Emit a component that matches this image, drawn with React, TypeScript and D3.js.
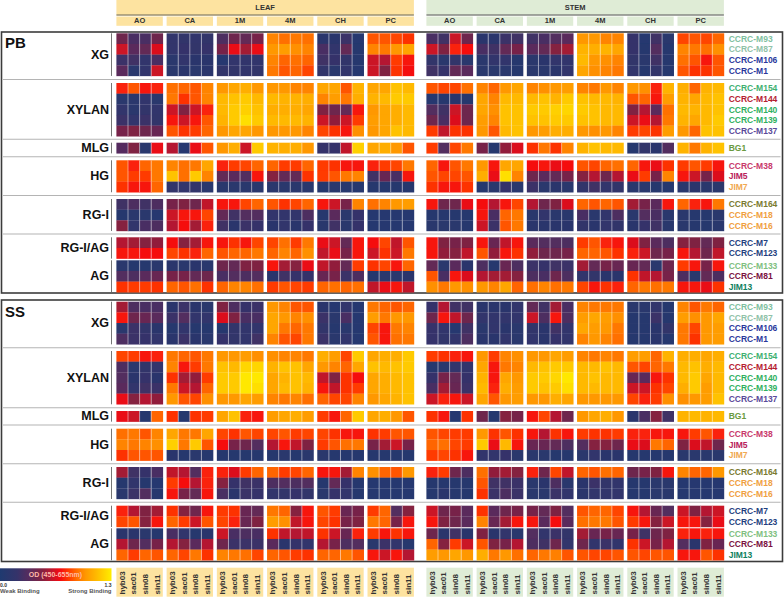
import React from "react";
import * as d3 from "d3";

// Values are OD x 100, rows follow ANTIBODIES, columns follow ACCESSIONS
const ACCESSIONS = ["hyb03", "sac01", "sin08", "sin11"];
const STAGES = ["AO", "CA", "1M", "4M", "CH", "PC"];
const ANTIBODIES = ["CCRC-M93","CCRC-M87","CCRC-M106","CCRC-M1","CCRC-M154","CCRC-M144","CCRC-M140","CCRC-M139","CCRC-M137","BG1","CCRC-M38","JIM5","JIM7","CCRC-M164","CCRC-M18","CCRC-M16","CCRC-M7","CCRC-M123","CCRC-M133","CCRC-M81","JIM13"];
const ANTIBODY_COLORS = ["#7fbfa0","#8fc2a8","#2a389c","#2a389c","#40b070","#b52030","#30b060","#30b060","#5a4a9a","#6a9a40","#c8386a","#b8205a","#f0a850","#7a7a30","#f0a040","#f0a040","#1f3f80","#1f3f80","#80c080","#7a1040","#108060"];
const GROUPS = ["XG","XYLAN","MLG","HG","RG-I","RG-I/AG","AG"];
const GROUP_SIZES = [4,5,1,3,3,2,3];

const PB_LEAF_AO = [[42,28,28,42],[62,35,38,65],[22,25,15,28],[35,10,15,62],[75,85,72,75],[10,10,15,10],[15,10,18,15],[22,15,22,18],[45,48,42,40],[33,48,10,68],[85,75,88,92],[85,80,80,92],[78,72,72,88],[25,30,25,30],[8,10,10,5],[50,15,28,30],[58,55,50,52],[72,72,70,70],[10,8,8,10],[32,30,35,40],[78,80,80,78]];
const PB_LEAF_CA = [[15,18,15,18],[15,20,18,20],[10,15,12,12],[10,12,10,12],[90,88,85,95],[92,78,85,95],[62,48,62,75],[72,62,72,85],[85,78,80,88],[58,5,68,85],[95,90,92,105],[115,90,118,95],[18,15,18,10],[45,48,42,60],[62,72,72,82],[58,70,55,75],[70,50,55,72],[82,78,75,88],[12,10,12,10],[45,45,38,42],[88,85,90,78]];
const PB_LEAF_1M = [[30,42,38,45],[45,68,55,68],[5,15,15,15],[18,18,15,18],[100,105,108,100],[112,115,118,112],[112,118,120,115],[110,118,125,118],[100,105,105,100],[100,108,62,118],[75,80,82,88],[38,35,32,72],[10,10,10,10],[72,72,82,88],[38,25,32,32],[25,12,22,20],[72,78,72,82],[85,88,88,92],[42,38,48,48],[28,32,30,32],[88,95,95,90]];
const PB_LEAF_4M = [[95,90,92,90],[100,102,98,95],[95,88,90,88],[92,85,88,82],[100,100,95,95],[112,110,110,108],[108,108,108,105],[112,112,112,110],[100,100,100,95],[110,108,108,100],[88,80,80,88],[50,38,38,78],[10,10,10,10],[85,78,82,88],[15,15,15,30],[12,15,12,20],[82,90,80,92],[88,95,88,98],[72,55,50,68],[12,25,20,20],[80,85,82,80]];
const PB_LEAF_CH = [[12,12,22,5],[28,15,38,8],[25,20,18,8],[18,10,15,5],[105,105,85,110],[95,102,92,108],[48,42,38,72],[62,52,62,80],[82,78,72,98],[20,20,60,120],[80,78,72,72],[80,85,92,95],[8,10,8,8],[72,62,45,95],[8,35,10,20],[10,25,10,20],[68,62,38,72],[60,68,45,72],[60,52,38,80],[40,45,22,30],[88,90,88,90]];
const PB_LEAF_PC = [[85,85,82,78],[95,92,100,105],[62,58,80,72],[62,48,78,70],[105,105,115,112],[110,112,118,118],[100,105,108,112],[102,105,108,112],[100,105,115,112],[105,108,100,85],[75,80,82,92],[25,40,28,72],[8,8,8,8],[90,95,100,102],[5,5,5,5],[5,5,5,5],[70,82,60,85],[62,78,62,92],[78,82,72,88],[8,10,10,12],[60,68,72,60]];

const PB_STEM_AO = [[28,25,62,42],[62,48,75,70],[18,10,18,10],[25,20,38,35],[85,82,82,90],[5,8,12,8],[32,25,62,42],[42,28,65,42],[80,60,78,78],[80,32,82,92],[88,72,85,92],[85,82,82,85],[78,72,72,78],[72,42,42,68],[8,8,8,8],[10,10,10,8],[72,48,45,48],[72,52,50,60],[38,10,35,12],[85,28,72,65],[98,92,100,98]];
const PB_STEM_CA = [[12,12,22,25],[28,25,38,45],[10,15,15,8],[10,10,10,8],[95,88,100,105],[105,95,112,112],[105,98,115,115],[102,95,115,115],[100,85,112,115],[45,8,52,65],[100,72,105,105],[108,68,125,95],[8,10,20,10],[70,58,72,82],[72,28,88,92],[62,22,85,92],[72,40,60,72],[85,52,72,78],[30,8,40,30],[58,55,55,50],[100,95,105,88]];
const PB_STEM_1M = [[25,28,32,35],[35,38,50,55],[10,12,15,15],[10,10,12,15],[95,98,100,102],[112,115,110,118],[118,118,120,122],[115,115,118,118],[100,102,108,108],[78,92,78,95],[70,72,68,70],[42,35,38,45],[22,10,12,10],[58,42,48,65],[10,15,10,10],[12,12,12,12],[35,32,32,30],[52,42,42,45],[22,20,25,22],[30,28,42,30],[90,95,90,92]];
const PB_STEM_4M = [[100,100,95,95],[110,108,110,105],[112,100,98,95],[105,98,95,92],[95,92,100,95],[115,112,112,110],[118,115,112,112],[115,115,112,112],[100,98,100,95],[110,115,112,112],[85,82,88,90],[50,58,42,58],[18,25,15,18],[88,85,88,85],[28,10,15,30],[18,12,15,18],[80,85,75,72],[88,88,85,78],[55,38,45,40],[15,18,12,12],[82,72,78,75]];
const PB_STEM_CH = [[20,5,25,10],[20,8,32,8],[18,10,25,8],[15,8,18,8],[100,98,75,110],[85,88,72,102],[48,58,35,90],[62,68,58,92],[80,82,78,102],[8,18,12,32],[88,72,68,78],[68,80,45,95],[10,10,8,8],[55,45,35,72],[10,32,28,10],[12,20,25,10],[65,48,35,30],[75,62,42,45],[40,38,10,42],[78,60,58,45],[88,92,90,92]];
const PB_STEM_PC = [[82,85,82,88],[95,92,90,98],[90,85,72,85],[85,78,78,85],[108,88,110,112],[110,105,112,115],[112,110,112,115],[110,105,112,118],[100,88,115,115],[110,92,110,115],[80,85,80,72],[72,62,45,65],[10,12,10,10],[88,75,72,92],[10,8,8,10],[10,8,8,10],[50,48,38,48],[72,58,42,60],[80,72,45,72],[30,10,38,30],[72,72,68,78]];

const SS_LEAF_AO = [[55,30,28,28],[72,42,40,35],[10,22,18,12],[30,22,20,15],[82,80,72,75],[30,10,18,15],[32,12,20,12],[35,15,25,22],[68,50,58,52],[68,62,8,88],[90,92,85,95],[95,92,95,98],[78,85,85,85],[55,25,20,28],[8,15,8,5],[10,22,32,8],[75,58,48,55],[82,85,50,72],[12,12,10,8],[58,42,32,45],[88,80,88,85]];
const SS_LEAF_CA = [[12,22,12,10],[22,32,15,15],[8,15,8,8],[12,22,12,10],[92,88,85,92],[95,72,80,92],[78,55,52,80],[92,62,58,88],[100,85,82,98],[78,8,78,80],[105,92,92,105],[120,92,118,85],[12,8,10,8],[60,58,32,75],[80,70,58,75],[72,45,38,72],[78,50,42,72],[88,80,62,85],[28,15,8,12],[58,50,35,58],[88,82,92,78]];
const SS_LEAF_1M = [[48,30,20,22],[65,48,28,28],[8,18,15,15],[20,18,15,25],[100,100,102,98],[115,112,122,122],[118,118,128,128],[118,118,128,125],[100,100,105,102],[105,115,75,72],[82,78,85,82],[70,45,42,32],[8,8,8,8],[75,65,80,88],[50,20,25,22],[28,12,22,20],[80,78,40,38],[82,75,40,48],[62,28,30,28],[42,22,22,22],[95,92,90,82]];
const SS_LEAF_4M = [[100,95,85,85],[105,100,95,98],[105,92,88,92],[95,85,82,92],[98,95,95,92],[110,115,115,105],[105,110,115,112],[105,112,115,110],[95,92,95,90],[102,105,108,102],[82,85,80,82],[58,72,60,48],[8,10,8,10],[88,80,82,88],[30,32,30,32],[15,18,20,18],[92,88,50,72],[102,98,60,72],[78,60,58,60],[35,12,20,15],[88,85,80,78]];
const SS_LEAF_CH = [[12,5,15,5],[22,10,28,5],[18,8,10,5],[22,10,15,5],[108,102,82,118],[100,95,88,105],[60,48,78,70],[72,60,78,80],[88,82,82,95],[80,72,88,118],[82,78,72,72],[80,85,90,92],[10,8,8,8],[72,72,55,95],[8,38,20,8],[10,20,15,8],[85,80,40,45],[82,78,45,48],[78,62,40,75],[58,45,30,32],[88,88,92,85]];
const SS_LEAF_PC = [[92,88,85,88],[102,92,100,100],[82,72,92,95],[85,72,90,92],[105,108,108,118],[115,112,115,118],[105,108,112,115],[105,108,112,115],[100,105,110,115],[105,108,100,85],[78,80,85,85],[45,55,62,45],[8,8,8,8],[98,88,85,100],[5,5,5,5],[5,5,5,5],[80,88,32,50],[92,88,45,72],[80,72,78,72],[10,22,15,8],[72,62,72,58]];

const SS_STEM_AO = [[20,58,25,25],[42,72,60,42],[20,15,5,25],[20,18,15,30],[80,78,75,72],[8,10,15,15],[20,45,38,20],[28,55,40,22],[62,75,72,62],[78,72,5,78],[85,82,80,80],[88,90,82,80],[80,82,78,72],[75,80,42,30],[8,8,8,8],[8,12,8,8],[62,42,45,35],[72,48,42,35],[42,12,25,12],[88,50,80,62],[102,100,105,100]];
const SS_STEM_CA = [[12,12,12,15],[15,15,15,15],[10,15,12,10],[12,12,15,10],[100,80,95,98],[105,72,92,95],[110,72,105,100],[112,75,108,102],[105,85,100,102],[42,8,50,45],[100,78,85,78],[118,68,112,72],[15,15,20,10],[90,52,55,50],[85,25,25,22],[78,22,30,22],[78,35,42,45],[95,40,55,72],[48,12,15,10],[85,48,45,58],[108,92,100,90]];
const SS_STEM_1M = [[38,25,55,28],[62,30,72,30],[18,12,25,15],[15,12,20,15],[100,100,105,102],[112,115,118,118],[118,118,122,128],[118,115,118,125],[100,100,108,105],[72,82,58,42],[72,58,78,72],[40,40,38,30],[10,10,8,8],[75,42,82,60],[10,12,30,10],[10,10,22,15],[45,38,48,32],[72,35,70,35],[32,15,22,18],[30,25,42,15],[88,92,94,85]];
const SS_STEM_4M = [[95,92,92,92],[102,105,102,98],[105,102,100,92],[95,100,95,90],[95,92,95,92],[112,112,115,112],[112,115,112,112],[112,112,112,112],[100,100,100,100],[100,105,108,100],[80,78,78,80],[32,50,50,42],[10,15,12,12],[88,85,90,88],[12,22,18,15],[12,15,15,15],[85,88,88,82],[90,92,92,85],[55,40,45,40],[42,15,22,15],[85,82,82,85]];
const SS_STEM_CH = [[10,10,15,8],[8,8,22,8],[8,8,12,18],[8,8,12,8],[102,102,88,110],[85,82,88,92],[40,35,72,78],[62,62,78,82],[82,75,80,98],[12,28,50,25],[75,75,72,72],[68,65,92,88],[8,8,8,8],[42,45,48,72],[8,8,10,10],[8,8,10,10],[72,58,40,32],[80,72,50,62],[45,25,42,48],[78,62,45,58],[85,82,85,85]];
const SS_STEM_PC = [[95,85,92,88],[102,98,100,105],[92,82,100,102],[92,78,100,102],[108,108,105,108],[112,115,108,112],[112,118,105,112],[108,118,102,112],[98,100,102,115],[110,112,110,112],[72,80,85,75],[48,65,60,42],[10,10,10,10],[95,88,88,100],[5,5,5,5],[5,5,5,5],[62,48,58,62],[72,72,50,68],[75,72,75,72],[32,12,48,40],[72,72,85,78]];

const PB_LEAF = [PB_LEAF_AO, PB_LEAF_CA, PB_LEAF_1M, PB_LEAF_4M, PB_LEAF_CH, PB_LEAF_PC];
const PB_STEM = [PB_STEM_AO, PB_STEM_CA, PB_STEM_1M, PB_STEM_4M, PB_STEM_CH, PB_STEM_PC];
const SS_LEAF = [SS_LEAF_AO, SS_LEAF_CA, SS_LEAF_1M, SS_LEAF_4M, SS_LEAF_CH, SS_LEAF_PC];
const SS_STEM = [SS_STEM_AO, SS_STEM_CA, SS_STEM_1M, SS_STEM_4M, SS_STEM_CH, SS_STEM_PC];

const COLOR_STOPS = [0, 20, 35, 50, 60, 70, 80, 90, 100, 110, 120, 130];
const COLOR_RANGE = ["#1f3a70", "#35336a", "#5a2b5c", "#85203f", "#c0162c", "#f50a10", "#ff3a00", "#ff7000", "#ff9800", "#ffb300", "#ffd000", "#ffee00"];
const color = d3.scaleLinear<string>().domain(COLOR_STOPS).range(COLOR_RANGE).clamp(true);

const FONT = "'Liberation Sans', Arial, sans-serif";

// layout of the blocks
const PB_TOPS = [33.3, 83, 142.7, 160.3, 199, 237.3, 260.3];
const SS_TOPS = [301.7, 351, 411, 428.7, 467, 505.7, 528.3];
const PB_SEPS = [79.5, 139.3, 156.7, 195.5, 234];
const SS_SEPS = [347.7, 407.7, 425, 463.7, 502.3];
const ROW_H = 10.66;
const GROUP_W = 46.4;
const GROUP_STEP = 50.22;
const LEAF_X = 116.4;
const STEM_X = 426.4;

const stageX = d3.scaleLinear().domain([0, 1]).range([0, GROUP_STEP]);
const colX = d3.scaleBand<string>().domain(ACCESSIONS).range([0, GROUP_W]);
const groupStarts = d3.cumsum([0, ...GROUP_SIZES]);

function Tissue({ x0, data, tops }: { x0: number; data: number[][][]; tops: number[] }) {
  return (
    <g>
      {data.map((stage, s) => {
        const gx = x0 + stageX(s);
        return (
          <g key={s}>
            {GROUPS.map((g, gi) => {
              const rows = d3.range(groupStarts[gi], groupStarts[gi] + GROUP_SIZES[gi]);
              const y = d3.scaleBand<number>().domain(rows).range([tops[gi], tops[gi] + ROW_H * rows.length]);
              return (
                <g key={g}>
                  {rows.map((r) =>
                    ACCESSIONS.map((a, c) => (
                      <rect key={a} x={gx + colX(a)!} y={y(r)!} width={colX.bandwidth() + 0.3} height={y.bandwidth() + 0.2} fill={color(stage[r][c])} />
                    ))
                  )}
                  {[1, 2, 3].map((c) => (
                    <line key={c} x1={gx + colX(ACCESSIONS[c])!} x2={gx + colX(ACCESSIONS[c])!} y1={tops[gi]} y2={tops[gi] + ROW_H * rows.length} stroke="#ffffff" strokeOpacity={0.55} strokeWidth={0.9} />
                  ))}
                </g>
              );
            })}
          </g>
        );
      })}
    </g>
  );
}

function Panel({ name, top, bottom, nameY, tops, seps, leaf, stem }: { name: string; top: number; bottom: number; nameY: number; tops: number[]; seps: number[]; leaf: number[][][]; stem: number[][][] }) {
  return (
    <g>
      <rect x={1.5} y={top} width={781} height={bottom - top} fill="#ffffff" stroke="#3c3c3c" strokeWidth={1.6} />
      {seps.map((s) => (
        <line key={s} x1={3} x2={780.5} y1={s} y2={s} stroke="#b4b4b4" strokeWidth={1.1} />
      ))}
      <text x={5} y={nameY} fontFamily={FONT} fontWeight={700} fontSize={15} dominantBaseline="central" fill="#111">{name}</text>
      {GROUPS.map((g, gi) => {
        const h = ROW_H * GROUP_SIZES[gi];
        return (
          <g key={g}>
            <line x1={111.5} x2={111.5} y1={tops[gi]} y2={tops[gi] + h} stroke="#666" strokeWidth={0.9} />
            <text x={109} y={tops[gi] + h / 2} textAnchor="end" dominantBaseline="central" fontFamily={FONT} fontWeight={700} fontSize={12.5} fill="#111">{g}</text>
          </g>
        );
      })}
      <g filter="url(#soft)">
        <Tissue x0={LEAF_X} data={leaf} tops={tops} />
        <Tissue x0={STEM_X} data={stem} tops={tops} />
      </g>
      {ANTIBODIES.map((a, i) => {
        const gi = GROUP_SIZES.findIndex((_, k) => i < groupStarts[k + 1]);
        return (
          <text key={a} x={728.7} y={tops[gi] + ROW_H * (i - groupStarts[gi] + 0.5)} dominantBaseline="central" fontFamily={FONT} fontWeight={700} fontSize={8.5} fill={ANTIBODY_COLORS[i]}>{a}</text>
        );
      })}
    </g>
  );
}

function Header({ x0, label, fill, line }: { x0: number; label: string; fill: string; line: string }) {
  const w = stageX(5) + GROUP_W;
  return (
    <g fontFamily={FONT} fontWeight={700} fontSize={7.5} fill="#333">
      <rect x={x0} y={0} width={w} height={14.5} fill={fill} />
      <line x1={x0} x2={x0 + w} y1={15} y2={15} stroke={line} strokeWidth={1.1} />
      <text x={x0 + w / 2} y={7.3} textAnchor="middle" dominantBaseline="central">{label}</text>
      {STAGES.map((s, i) => (
        <g key={s}>
          <rect x={x0 + stageX(i)} y={16.5} width={GROUP_W} height={9.3} fill={fill} />
          <text x={x0 + stageX(i) + GROUP_W / 2} y={20.7} textAnchor="middle" dominantBaseline="central">{s}</text>
        </g>
      ))}
    </g>
  );
}

function Footer({ x0, fill }: { x0: number; fill: string }) {
  return (
    <g>
      {STAGES.map((s, i) => (
        <g key={s}>
          <rect x={x0 + stageX(i)} y={567.7} width={GROUP_W} height={29} fill={fill} />
          {ACCESSIONS.map((a) => {
            const cx = x0 + stageX(i) + colX(a)! + colX.bandwidth() / 2;
            return (
              <text key={a} transform={`translate(${cx},594.5) rotate(-90)`} dominantBaseline="central" fontFamily={FONT} fontWeight={700} fontSize={8} fill="#333">{a}</text>
            );
          })}
        </g>
      ))}
    </g>
  );
}

export default function App() {
  const gradient = d3.scaleLinear().domain([0, 130]).range([0, 100]);
  return (
    <svg width={784} height={597} style={{ position: "absolute", left: 0, top: 0, display: "block" }}>
      <defs>
        <linearGradient id="od" x1="0" x2="1" y1="0" y2="0">
          {COLOR_STOPS.map((v, i) => (
            <stop key={v} offset={`${gradient(v)}%`} stopColor={COLOR_RANGE[i]} />
          ))}
        </linearGradient>
        <filter id="soft" x="0" y="0" width="100%" height="100%">
          <feGaussianBlur stdDeviation="0.35" />
        </filter>
      </defs>
      <rect width={784} height={597} fill="#fff" />
      <Header x0={LEAF_X} label="LEAF" fill="#fde3a0" line="#6b5a2a" />
      <Header x0={STEM_X} label="STEM" fill="#dfecd6" line="#4a4f46" />
      <Panel name="PB" top={32} bottom={293} nameY={42} tops={PB_TOPS} seps={PB_SEPS} leaf={PB_LEAF} stem={PB_STEM} />
      <Panel name="SS" top={300} bottom={561.5} nameY={311.5} tops={SS_TOPS} seps={SS_SEPS} leaf={SS_LEAF} stem={SS_STEM} />
      <rect x={0} y={568.3} width={111.5} height={12.7} fill="url(#od)" />
      <text x={55.5} y={574.8} textAnchor="middle" dominantBaseline="central" fontFamily={FONT} fontWeight={700} fontSize={7} fill="#ffb9a8">OD (450-655nm)</text>
      <text x={0} y={585.3} dominantBaseline="central" fontFamily={FONT} fontWeight={700} fontSize={5} fill="#333">0.0</text>
      <text x={111.5} y={585.3} textAnchor="end" dominantBaseline="central" fontFamily={FONT} fontWeight={700} fontSize={5} fill="#333">1.3</text>
      <text x={0} y={591} dominantBaseline="central" fontFamily={FONT} fontWeight={700} fontSize={6} fill="#555">Weak Binding</text>
      <text x={111.5} y={591} textAnchor="end" dominantBaseline="central" fontFamily={FONT} fontWeight={700} fontSize={6} fill="#555">Strong Binding</text>
      <Footer x0={LEAF_X} fill="#fde3a0" />
      <Footer x0={STEM_X} fill="#dfecd6" />
    </svg>
  );
}
